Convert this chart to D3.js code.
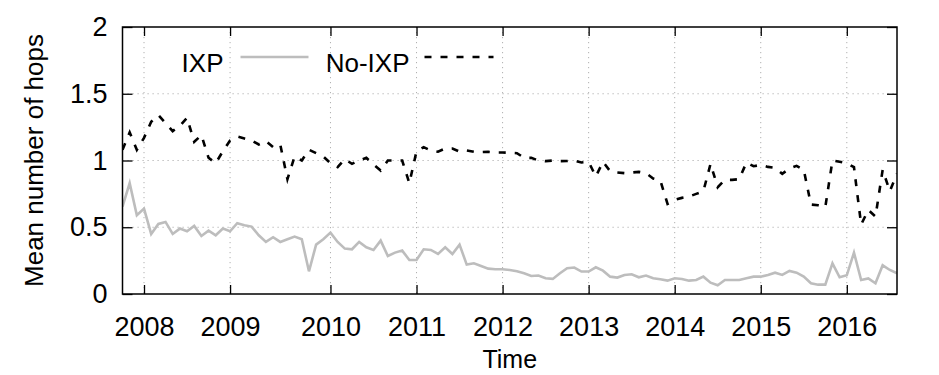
<!DOCTYPE html>
<html>
<head>
<meta charset="utf-8">
<script src="https://cdn.jsdelivr.net/npm/d3@7"></script>
<style>
  body { margin: 0; background: #fff; }
  text { font-family: "Liberation Sans", Arial, sans-serif; fill: #000; }
</style>
</head>
<body>
<div id="chart"></div>
<script>
// monthly samples, index 0..108
const ixp = [
  0.655, 0.83, 0.59, 0.64, 0.45, 0.525, 0.54, 0.45, 0.49, 0.47,
  0.51, 0.435, 0.475, 0.44, 0.49, 0.47, 0.53, 0.515, 0.505, 0.44,
  0.39, 0.425, 0.39, 0.41, 0.43, 0.41, 0.17, 0.37, 0.41, 0.46,
  0.39, 0.34, 0.335, 0.39, 0.35, 0.33, 0.40, 0.285, 0.31, 0.325,
  0.255, 0.255, 0.335, 0.33, 0.30, 0.35, 0.30, 0.37, 0.22, 0.23,
  0.21, 0.19, 0.185, 0.185, 0.18, 0.17, 0.155, 0.135, 0.138, 0.118,
  0.113, 0.155, 0.193, 0.198, 0.168, 0.168, 0.20, 0.175, 0.13, 0.123,
  0.143, 0.148, 0.125, 0.138, 0.118, 0.11, 0.10, 0.118, 0.113, 0.10,
  0.105, 0.13, 0.085, 0.065, 0.105, 0.105, 0.105, 0.118, 0.13, 0.13,
  0.143, 0.16, 0.143, 0.173, 0.16, 0.13, 0.08, 0.07, 0.07, 0.23,
  0.125, 0.14, 0.31, 0.105, 0.117, 0.08, 0.215, 0.18, 0.155
];
const noIxp = [
  1.08, 1.21, 1.08, 1.17, 1.29, 1.34, 1.28, 1.22, 1.26, 1.32,
  1.14, 1.19, 1.02, 0.98, 1.07, 1.15, 1.18, 1.165, 1.15, 1.12,
  1.145, 1.10, 1.12, 0.86, 1.03, 1.0, 1.08, 1.055, 1.03, 0.98,
  0.95, 1.01, 0.975, 1.0, 1.02, 0.97, 0.925, 1.0, 1.0, 1.0,
  0.83, 1.07, 1.10, 1.075, 1.066, 1.09, 1.09, 1.066, 1.075, 1.065,
  1.063, 1.065, 1.06, 1.06, 1.058, 1.055, 1.02, 1.02, 1.0, 0.995,
  1.0, 0.995, 0.996, 1.0, 0.985, 0.99, 0.88, 0.99, 0.92, 0.91,
  0.905, 0.91, 0.915, 0.905, 0.865, 0.85, 0.675, 0.705, 0.72, 0.73,
  0.75, 0.77, 0.975, 0.80, 0.855, 0.855, 0.86, 0.985, 0.957, 0.967,
  0.952, 0.945, 0.90, 0.94, 0.96, 0.93, 0.67, 0.665, 0.65, 1.0,
  0.99, 0.98, 0.95, 0.52, 0.63, 0.58, 0.93, 0.77, 0.90
];
// x tick labels and the sample index they sit on
const yearLabels = ["2008", "2009", "2010", "2011", "2012", "2013", "2014", "2015", "2016"];
const yearIndex = [3, 15, 29, 41, 53, 65, 77, 89, 101];
const yTicks = [0, 0.5, 1, 1.5, 2];

const W = 939, H = 375;
const margin = { top: 27, right: 42, bottom: 81, left: 122.5 };
const width = W - margin.left - margin.right, height = H - margin.top - margin.bottom;

const svg = d3.select("#chart").append("svg")
  .attr("width", W).attr("height", H);
const g = svg.append("g").attr("transform", `translate(${margin.left},${margin.top})`);

const x = d3.scaleLinear().domain([0, ixp.length - 1]).range([0, width]);
const y = d3.scaleLinear().domain([0, 2]).range([height, 0]);

// dotted grid
g.append("g").selectAll("line").data(yearIndex).join("line")
  .attr("x1", d => x(d)).attr("x2", d => x(d)).attr("y1", 0).attr("y2", height)
  .attr("stroke", "#b0b0b0").attr("stroke-width", 1).attr("stroke-dasharray", "1.2,3.8");
g.append("g").selectAll("line").data(yTicks.slice(1, -1)).join("line")
  .attr("x1", 0).attr("x2", width).attr("y1", d => y(d)).attr("y2", d => y(d))
  .attr("stroke", "#b0b0b0").attr("stroke-width", 1).attr("stroke-dasharray", "1.2,3.8");

// axes (ticks point inward, mirrored on top/right)
const tickStyle = sel => {
  sel.select(".domain").remove();
  sel.selectAll(".tick line").attr("stroke", "#000").attr("stroke-width", 1.3);
  sel.selectAll(".tick text").style("font-size", "27px")
    .style("font-family", "'Liberation Sans', Arial, sans-serif");
};
g.append("g").attr("transform", `translate(0,${height})`)
  .call(d3.axisBottom(x).tickValues(yearIndex).tickSize(-9).tickPadding(23)
    .tickFormat((d, i) => yearLabels[i]))
  .call(tickStyle);
g.append("g")
  .call(d3.axisTop(x).tickValues(yearIndex).tickSize(-9).tickFormat(""))
  .call(tickStyle);
g.append("g")
  .call(d3.axisLeft(y).tickValues(yTicks).tickSize(-10).tickPadding(15).tickFormat(d3.format("")))
  .call(tickStyle);
g.append("g").attr("transform", `translate(${width},0)`)
  .call(d3.axisRight(y).tickValues(yTicks).tickSize(-10).tickFormat(""))
  .call(tickStyle);

// lines
svg.append("defs").append("clipPath").attr("id", "clip")
  .append("rect").attr("width", width).attr("height", height);
const line = d3.line().x((d, i) => x(i)).y(d => y(d));
const plot = g.append("g").attr("clip-path", "url(#clip)");
plot.append("path").datum(ixp).attr("d", line)
  .attr("fill", "none").attr("stroke", "#bdbdbd").attr("stroke-width", 2.6)
  .attr("stroke-linejoin", "miter");
plot.append("path").datum(noIxp).attr("d", line)
  .attr("fill", "none").attr("stroke", "#000").attr("stroke-width", 2.6)
  .attr("stroke-dasharray", "7,9");

// border
g.append("rect").attr("width", width).attr("height", height)
  .attr("fill", "none").attr("stroke", "#000").attr("stroke-width", 1.5);

// legend
const legend = g.append("g");
legend.append("text").attr("x", 101).attr("y", 45).attr("text-anchor", "end")
  .style("font-size", "26px").text("IXP");
legend.append("line").attr("x1", 118).attr("x2", 186).attr("y1", 30).attr("y2", 30)
  .attr("stroke", "#bdbdbd").attr("stroke-width", 2.6);
legend.append("text").attr("x", 287).attr("y", 45).attr("text-anchor", "end")
  .style("font-size", "26px").text("No-IXP");
legend.append("line").attr("x1", 302).attr("x2", 371).attr("y1", 30).attr("y2", 30)
  .attr("stroke", "#000").attr("stroke-width", 2.6).attr("stroke-dasharray", "7,9");

// axis titles
svg.append("text").attr("x", margin.left + width / 2).attr("y", 368)
  .attr("text-anchor", "middle").style("font-size", "25px").text("Time");
svg.append("text")
  .attr("transform", `translate(43,${margin.top + height / 2}) rotate(-90)`)
  .attr("text-anchor", "middle").style("font-size", "26px").text("Mean number of hops");
</script>
</body>
</html>
